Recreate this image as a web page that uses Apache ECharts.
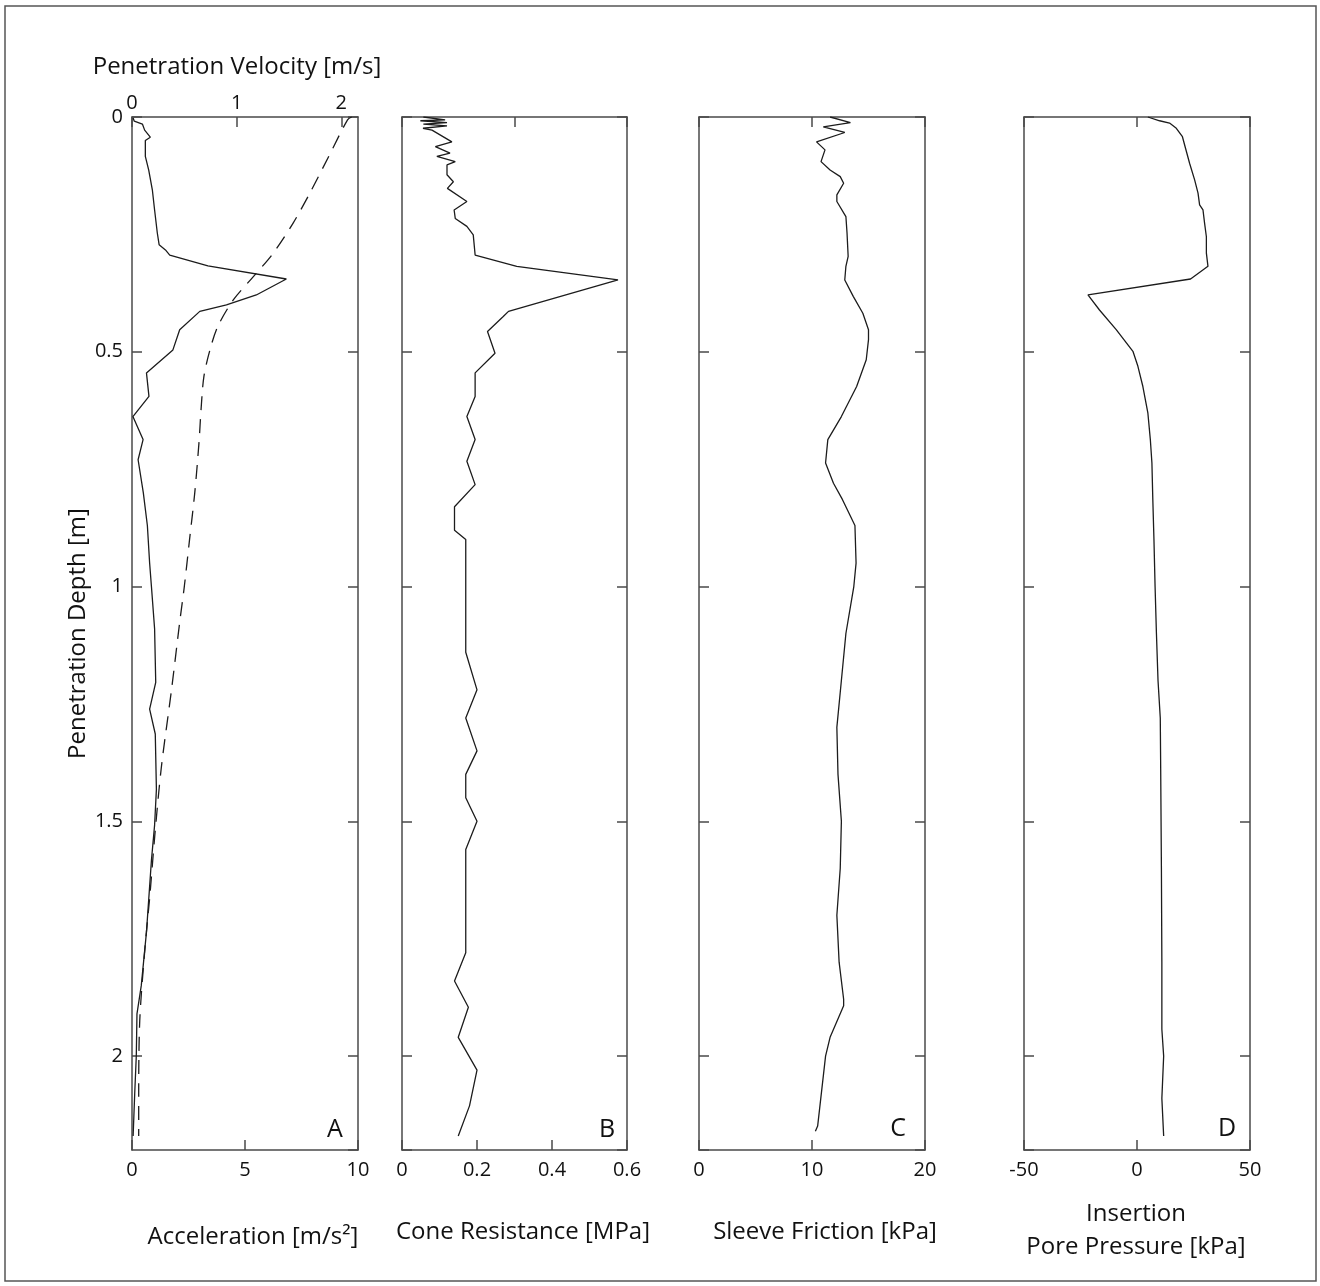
<!DOCTYPE html>
<html>
<head>
<meta charset="utf-8">
<script src="https://cdn.jsdelivr.net/npm/echarts@6/dist/echarts.min.js"></script>
<style>
html,body{margin:0;padding:0;background:#fff;}
#chart{width:1320px;height:1286px;}
</style>
</head>
<body>
<div id="chart"></div>
<script>
// ---- Panel A: acceleration (solid) and penetration velocity (dashed) ----
var accDepth = [0.002, 0.009, 0.015, 0.028, 0.043, 0.05, 0.084, 0.113, 0.155, 0.198, 0.247, 0.272, 0.283, 0.294, 0.317, 0.345, 0.379, 0.40, 0.414, 0.453, 0.496, 0.545, 0.595, 0.638, 0.687, 0.73, 0.8, 0.87, 0.95, 1.0, 1.09, 1.204, 1.261, 1.314, 1.432, 1.508, 1.583, 1.736, 1.85, 1.91, 2.0, 2.08, 2.17];
var accValue = [0.05, 0.1, 0.46, 0.56, 0.81, 0.59, 0.59, 0.74, 0.9, 1.0, 1.12, 1.2, 1.48, 1.67, 3.36, 6.83, 5.5, 4.18, 3.0, 2.11, 1.81, 0.64, 0.75, 0.04, 0.49, 0.27, 0.5, 0.68, 0.78, 0.86, 1.0, 1.05, 0.78, 1.03, 1.08, 1.0, 0.86, 0.64, 0.41, 0.22, 0.19, 0.12, 0.05];
var velDepth = [0.0, 0.006, 0.084, 0.162, 0.226, 0.29, 0.34, 0.389, 0.446, 0.496, 0.553, 0.623, 0.694, 0.8, 0.9, 1.0, 1.074, 1.219, 1.386, 1.53, 1.66, 1.775, 1.925, 2.085, 2.17];
var velValue = [2.1, 2.06, 1.88, 1.70, 1.54, 1.35, 1.16, 0.97, 0.82, 0.745, 0.687, 0.66, 0.64, 0.6, 0.55, 0.5, 0.457, 0.378, 0.28, 0.218, 0.17, 0.122, 0.074, 0.064, 0.064];

// ---- Panel B: cone resistance [MPa] ----
var coneDepth = [0.0, 0.006, 0.008, 0.012, 0.015, 0.019, 0.024, 0.028, 0.053, 0.063, 0.077, 0.084, 0.095, 0.102, 0.123, 0.138, 0.152, 0.18, 0.198, 0.216, 0.233, 0.251, 0.294, 0.318, 0.347, 0.414, 0.425, 0.457, 0.503, 0.545, 0.595, 0.638, 0.687, 0.733, 0.783, 0.83, 0.88, 0.9, 1.14, 1.22, 1.28, 1.35, 1.4, 1.45, 1.5, 1.56, 1.78, 1.84, 1.896, 1.96, 2.03, 2.106, 2.17];
var coneValue = [0.057, 0.115, 0.049, 0.12, 0.057, 0.12, 0.056, 0.08, 0.133, 0.089, 0.128, 0.093, 0.142, 0.12, 0.12, 0.137, 0.121, 0.173, 0.139, 0.142, 0.173, 0.19, 0.195, 0.306, 0.576, 0.284, 0.27, 0.228, 0.248, 0.195, 0.195, 0.173, 0.195, 0.173, 0.195, 0.14, 0.14, 0.17, 0.17, 0.2, 0.17, 0.2, 0.17, 0.17, 0.2, 0.17, 0.17, 0.14, 0.177, 0.15, 0.2, 0.18, 0.15];

// ---- Panel C: sleeve friction [kPa] ----
var fricDepth = [0.0, 0.012, 0.021, 0.033, 0.053, 0.07, 0.095, 0.113, 0.127, 0.141, 0.166, 0.18, 0.212, 0.247, 0.297, 0.318, 0.347, 0.382, 0.418, 0.453, 0.474, 0.517, 0.574, 0.638, 0.687, 0.737, 0.78, 0.815, 0.87, 0.95, 1.0, 1.1, 1.2, 1.3, 1.4, 1.5, 1.6, 1.7, 1.8, 1.879, 1.893, 1.96, 2.0, 2.149, 2.16];
var fricValue = [11.6, 13.4, 11.0, 12.9, 10.4, 11.15, 10.8, 11.6, 12.5, 12.8, 12.2, 12.2, 13.0, 13.1, 13.2, 13.0, 12.9, 13.65, 14.5, 15.0, 15.0, 14.8, 13.95, 12.6, 11.4, 11.2, 11.9, 12.7, 13.8, 13.9, 13.7, 13.0, 12.6, 12.2, 12.3, 12.6, 12.5, 12.2, 12.4, 12.8, 12.8, 11.6, 11.2, 10.5, 10.3];

// ---- Panel D: insertion pore pressure [kPa] ----
var poreDepth = [0.0, 0.008, 0.013, 0.024, 0.042, 0.067, 0.099, 0.134, 0.162, 0.187, 0.198, 0.226, 0.255, 0.29, 0.318, 0.345, 0.379, 0.411, 0.453, 0.499, 0.531, 0.574, 0.63, 0.687, 0.737, 0.815, 0.9, 1.0, 1.1, 1.2, 1.28, 1.4, 1.6, 1.8, 1.943, 2.0, 2.09, 2.17];
var poreValue = [4.8, 10, 14.4, 17.4, 20.1, 21.5, 23.3, 25.5, 27, 27.7, 29.2, 29.9, 30.7, 30.7, 31.4, 23.7, -21.7, -16.6, -9.2, -1.8, 0.4, 2.6, 4.8, 5.9, 6.6, 7.0, 7.5, 8.0, 8.6, 9.3, 10.3, 10.5, 10.8, 11.0, 11.0, 11.8, 11.0, 11.8];

// ---- axis texts ----
var panelLetters = ['A', 'B', 'C', 'D'];
var bottomTitles = ['Acceleration [m/s\u00B2]', 'Cone Resistance [MPa]', 'Sleeve Friction [kPa]', 'Insertion\nPore Pressure [kPa]'];
var topTitle = 'Penetration Velocity [m/s]';
var depthTitle = 'Penetration Depth [m]';

function pairs(xs, ys) { return ys.map(function (y, i) { return [xs[i], y]; }); }

var FONT = 'Open Sans';
var AX = '#4a4a4a';
var LINE = '#1c1c1c';
var TXT = '#111';

var grids = [
  {left: 132, top: 117, width: 226, height: 1033},
  {left: 402, top: 117, width: 225, height: 1033},
  {left: 699, top: 117, width: 226, height: 1033},
  {left: 1024, top: 117, width: 226, height: 1033}
];
var bottomRanges = [[0, 10, 5], [0, 0.6, 0.2], [0, 20, 10], [-50, 50, 50]];

var xAxes = [], yAxes = [];
grids.forEach(function (g, i) {
  xAxes.push({
    type: 'value', gridIndex: i, position: 'bottom',
    min: bottomRanges[i][0], max: bottomRanges[i][1], interval: bottomRanges[i][2],
    splitLine: {show: false},
    axisLine: {onZero: false, lineStyle: {color: AX, width: 1.5}},
    axisTick: {inside: true, length: 10, lineStyle: {color: AX, width: 1.5}},
    axisLabel: {fontFamily: FONT, fontSize: 20, color: TXT, margin: 10}
  });
  if (i === 0) {
    xAxes.push({
      type: 'value', gridIndex: i, position: 'top',
      min: 0, max: 2.16, interval: 1,
      splitLine: {show: false},
      axisLine: {onZero: false, lineStyle: {color: AX, width: 1.5}},
      axisTick: {inside: true, length: 10, lineStyle: {color: AX, width: 1.5}},
      axisLabel: {fontFamily: FONT, fontSize: 20, color: TXT, margin: 4, showMaxLabel: false}
    });
  } else {
    xAxes.push({
      type: 'value', gridIndex: i, position: 'top',
      min: 0, max: 2, interval: 1,
      splitLine: {show: false},
      axisLine: {onZero: false, lineStyle: {color: AX, width: 1.5}},
      axisTick: {inside: true, length: 10, lineStyle: {color: AX, width: 1.5}},
      axisLabel: {show: false}
    });
  }
  yAxes.push({
    type: 'value', gridIndex: i, position: 'left', inverse: true,
    min: 0, max: 2.2, interval: 0.5,
    splitLine: {show: false},
    axisLine: {onZero: false, lineStyle: {color: AX, width: 1.5}},
    axisTick: {inside: true, length: 10, lineStyle: {color: AX, width: 1.5}},
    axisLabel: {show: i === 0, fontFamily: FONT, fontSize: 20, color: TXT, margin: 9, showMaxLabel: false},
    name: i === 0 ? depthTitle : '',
    nameLocation: 'middle', nameGap: 42, nameRotate: 90,
    nameTextStyle: {fontFamily: FONT, fontSize: 24, color: TXT}
  });
  yAxes.push({
    type: 'value', gridIndex: i, position: 'right', inverse: true,
    min: 0, max: 2.2, interval: 0.5,
    splitLine: {show: false},
    axisLine: {onZero: false, lineStyle: {color: AX, width: 1.5}},
    axisTick: {inside: true, length: 10, lineStyle: {color: AX, width: 1.5}},
    axisLabel: {show: false}
  });
});

function lineSeries(xi, yi, data, dashed) {
  return {
    type: 'line', xAxisIndex: xi, yAxisIndex: yi, data: data,
    symbol: 'none', smooth: dashed ? 0.3 : false, animation: false,
    lineStyle: {color: LINE, width: 1.3, type: dashed ? [14, 9] : 'solid'},
    z: 3
  };
}

var series = [
  lineSeries(0, 0, pairs(accValue, accDepth), false),
  lineSeries(1, 0, pairs(velValue, velDepth), true),
  lineSeries(2, 2, pairs(coneValue, coneDepth), false),
  lineSeries(4, 4, pairs(fricValue, fricDepth), false),
  lineSeries(6, 6, pairs(poreValue, poreDepth), false)
];

var letterPos = [[335, 1130], [607, 1130], [898, 1129], [1227, 1129]];
var titlePos = [[253, 1237], [523, 1232], [825, 1232], [1136, 1231]];
var graphics = [
  {type: 'rect', shape: {x: 5, y: 6, width: 1311, height: 1275}, style: {fill: 'none', stroke: '#555', lineWidth: 1.5}, silent: true},
  {type: 'text', x: 237, y: 67, style: {text: topTitle, fontFamily: FONT, fontSize: 24, fill: TXT, textAlign: 'center', textVerticalAlign: 'middle'}}
];
panelLetters.forEach(function (t, i) {
  graphics.push({type: 'text', x: letterPos[i][0], y: letterPos[i][1],
    style: {text: t, fontFamily: FONT, fontSize: 25, fill: TXT, textAlign: 'center', textVerticalAlign: 'middle'}});
});
bottomTitles.forEach(function (t, i) {
  graphics.push({type: 'text', x: titlePos[i][0], y: titlePos[i][1],
    style: {text: t, fontFamily: FONT, fontSize: 24, lineHeight: 33, fill: TXT, textAlign: 'center', textVerticalAlign: 'middle'}});
});

var chart = echarts.init(document.getElementById('chart'), null, {renderer: 'canvas'});
chart.setOption({
  backgroundColor: '#fff',
  animation: false,
  grid: grids,
  xAxis: xAxes,
  yAxis: yAxes,
  series: series,
  graphic: graphics
});
</script>
</body>
</html>
